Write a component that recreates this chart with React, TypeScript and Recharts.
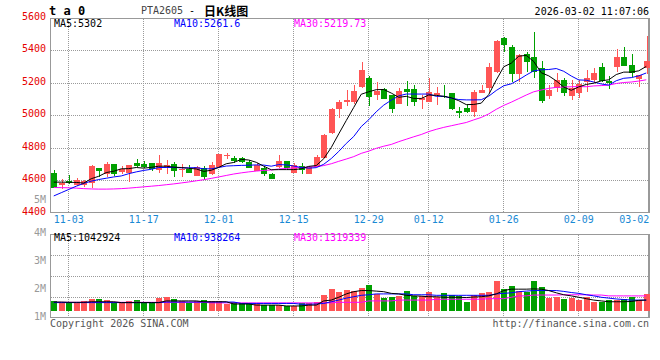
import React from 'react';
import { ComposedChart, Bar, Line, XAxis, YAxis, ReferenceArea } from 'recharts';

// ---------- data ----------
const DATES = [
  '10-30', '10-31',
  '11-03', '11-04', '11-05', '11-06', '11-07', '11-10', '11-11', '11-12', '11-13', '11-14',
  '11-17', '11-18', '11-19', '11-20', '11-21', '11-24', '11-25', '11-26', '11-27', '11-28',
  '12-01', '12-02', '12-03', '12-04', '12-05', '12-08', '12-09', '12-10', '12-11', '12-12',
  '12-15', '12-16', '12-17', '12-18', '12-19', '12-22', '12-23', '12-24', '12-25', '12-26',
  '12-29', '12-30', '12-31',
  '01-05', '01-06', '01-07', '01-08', '01-09', '01-12', '01-13', '01-14', '01-15', '01-16',
  '01-19', '01-20', '01-21', '01-22', '01-23', '01-26', '01-27', '01-28', '01-29', '01-30',
  '02-02', '02-03', '02-04', '02-05', '02-06', '02-09', '02-10', '02-11', '02-12', '02-13',
  '02-24', '02-25', '02-26', '02-27', '03-02',
];

const OPEN = [
  4645, 4573, 4596, 4575, 4575, 4585, 4676, 4639, 4701, 4651,
  4647, 4707, 4701, 4707, 4666, 4676, 4700, 4666, 4672, 4630,
  4674, 4637, 4684, 4750, 4736, 4736, 4715, 4659, 4674, 4639,
  4684, 4719, 4647, 4688, 4639, 4680, 4740, 4890, 5040, 5085,
  5085, 5178, 5233, 5127, 5162, 5127, 5071, 5164, 5164, 5096,
  5085, 5127, 5123, 5141, 5028, 5048, 5024, 5141, 5172, 5267,
  5478, 5419, 5256, 5378, 5361, 5291, 5122, 5168, 5219, 5122,
  5137, 5205, 5219, 5301, 5213, 5301, 5357, 5312, 5225, 5291,
];
const HIGH = [
  4664, 4612, 4635, 4616, 4606, 4696, 4676, 4713, 4701, 4690,
  4694, 4731, 4717, 4707, 4756, 4725, 4712, 4701, 4694, 4692,
  4690, 4715, 4765, 4770, 4750, 4742, 4725, 4705, 4684, 4647,
  4756, 4719, 4705, 4705, 4690, 4756, 4886, 5044, 5096, 5157,
  5188, 5332, 5244, 5209, 5172, 5127, 5168, 5213, 5188, 5127,
  5233, 5174, 5188, 5141, 5054, 5065, 5157, 5188, 5322, 5462,
  5480, 5435, 5378, 5388, 5512, 5336, 5188, 5260, 5233, 5219,
  5219, 5281, 5291, 5326, 5244, 5410, 5419, 5380, 5250, 5487,
];
const LOW = [
  4552, 4546, 4580, 4567, 4560, 4554, 4622, 4622, 4628, 4643,
  4589, 4684, 4674, 4659, 4648, 4643, 4622, 4622, 4647, 4628,
  4606, 4633, 4684, 4730, 4705, 4705, 4674, 4659, 4628, 4610,
  4674, 4664, 4647, 4639, 4639, 4680, 4740, 4888, 4986, 5059,
  5071, 5168, 5059, 5096, 5102, 5014, 5071, 5059, 5059, 5040,
  5085, 5065, 5109, 5034, 4983, 5018, 4990, 5136, 5136, 5260,
  5392, 5209, 5209, 5270, 5230, 5079, 5102, 5147, 5122, 5096,
  5110, 5147, 5199, 5209, 5162, 5270, 5307, 5240, 5178, 5254,
];
const CLOSE = [
  4556, 4585, 4585, 4602, 4594, 4688, 4659, 4701, 4643, 4670,
  4694, 4690, 4684, 4668, 4706, 4694, 4658, 4672, 4647, 4682,
  4622, 4694, 4762, 4756, 4721, 4715, 4674, 4694, 4637, 4610,
  4719, 4674, 4694, 4664, 4684, 4746, 4880, 5040, 5085, 5096,
  5151, 5281, 5116, 5151, 5102, 5040, 5151, 5145, 5085, 5106,
  5143, 5141, 5116, 5040, 5014, 5024, 5147, 5157, 5301, 5459,
  5435, 5256, 5373, 5328, 5270, 5090, 5157, 5219, 5141, 5168,
  5193, 5233, 5260, 5213, 5199, 5357, 5307, 5260, 5250, 5336,
];

const MA5 = [
  4590, 4590, 4589, 4588, 4584, 4611, 4626, 4649, 4657, 4672,
  4673, 4680, 4676, 4681, 4688, 4688, 4682, 4680, 4675, 4671,
  4656, 4663, 4681, 4703, 4711, 4730, 4726, 4712, 4688, 4666,
  4667, 4667, 4667, 4672, 4687, 4692, 4734, 4803, 4887, 4969,
  5050, 5131, 5146, 5159, 5160, 5138, 5112, 5118, 5105, 5105,
  5126, 5124, 5118, 5109, 5091, 5067, 5068, 5076, 5129, 5218,
  5300, 5322, 5365, 5370, 5332, 5263, 5244, 5213, 5175, 5155,
  5176, 5191, 5199, 5213, 5220, 5252, 5267, 5267, 5275, 5302,
];
const MA10 = [
  4505, 4525, 4545, 4565, 4582, 4596, 4606, 4614, 4622, 4628,
  4642, 4653, 4662, 4669, 4680, 4680, 4681, 4678, 4678, 4679,
  4672, 4672, 4680, 4689, 4691, 4693, 4694, 4696, 4695, 4688,
  4698, 4696, 4689, 4680, 4676, 4679, 4700, 4735, 4779, 4828,
  4871, 4932, 4974, 5023, 5064, 5094, 5121, 5132, 5132, 5132,
  5132, 5118, 5118, 5107, 5098, 5096, 5096, 5097, 5119, 5154,
  5183, 5195, 5220, 5249, 5275, 5281, 5283, 5289, 5272, 5243,
  5219, 5217, 5206, 5194, 5187, 5214, 5229, 5233, 5244, 5261.6,
];
const MA30 = [
  4557, 4556, 4555, 4553, 4550, 4548, 4547, 4547, 4548, 4550,
  4553, 4557, 4561, 4565, 4569, 4574, 4579, 4585, 4591, 4598,
  4605, 4613, 4622, 4631, 4640, 4647, 4653, 4658, 4662, 4665,
  4671, 4674, 4678, 4680, 4683, 4685, 4692, 4703, 4718, 4732,
  4747, 4767, 4781, 4798, 4811, 4822, 4839, 4854, 4869, 4883,
  4901, 4915, 4927, 4937, 4947, 4957, 4973, 4988, 5010, 5038,
  5062, 5082, 5104, 5126, 5146, 5157, 5167, 5173, 5175, 5177,
  5178, 5177, 5182, 5184, 5187, 5197, 5203, 5206, 5212, 5219.73,
];

// volume, millions
const VOLUME = [
  1.61, 1.53, 1.57, 1.53, 1.62, 1.68, 1.68, 1.64, 1.58, 1.53,
  1.61, 1.64, 1.53, 1.53, 1.71, 1.75, 1.68, 1.61, 1.53, 1.61,
  1.64, 1.61, 1.61, 1.50, 1.56, 1.53, 1.53, 1.53, 1.46, 1.46,
  1.46, 1.44, 1.43, 1.53, 1.53, 1.58, 1.82, 2.04, 1.94, 2.00,
  1.96, 2.07, 2.18, 1.86, 1.73, 1.75, 1.80, 1.96, 1.80, 1.79,
  1.93, 1.74, 1.89, 1.82, 1.79, 1.58, 1.82, 1.90, 1.94, 2.32,
  2.04, 2.14, 1.98, 1.94, 2.32, 2.11, 1.73, 1.76, 1.68, 1.73,
  1.64, 1.75, 1.58, 1.58, 1.64, 1.64, 1.68, 1.76, 1.64, 1.86,
];
const VOL_MA5 = [
  1.57, 1.57, 1.56, 1.56, 1.56, 1.58, 1.58, 1.58, 1.58, 1.55,
  1.55, 1.55, 1.55, 1.55, 1.55, 1.61, 1.61, 1.61, 1.61, 1.61,
  1.58, 1.58, 1.58, 1.58, 1.50, 1.50, 1.50, 1.46, 1.46, 1.46,
  1.46, 1.43, 1.43, 1.43, 1.46, 1.46, 1.61, 1.64, 1.74, 1.86,
  1.94, 1.98, 1.98, 1.96, 1.94, 1.88, 1.86, 1.81, 1.79, 1.78,
  1.76, 1.76, 1.74, 1.74, 1.74, 1.73, 1.75, 1.76, 1.79, 1.86,
  1.98, 2.03, 2.03, 2.03, 2.04, 2.03, 1.98, 1.90, 1.83, 1.79,
  1.74, 1.69, 1.64, 1.61, 1.58, 1.58, 1.58, 1.59, 1.63, 1.64,
];
const VOL_MA10 = [
  1.55, 1.55, 1.55, 1.55, 1.55, 1.55, 1.55, 1.55, 1.55, 1.55,
  1.55, 1.55, 1.55, 1.55, 1.55, 1.57, 1.57, 1.57, 1.57, 1.57,
  1.57, 1.57, 1.57, 1.57, 1.57, 1.52, 1.52, 1.52, 1.52, 1.52,
  1.52, 1.52, 1.52, 1.49, 1.49, 1.50, 1.52, 1.58, 1.64, 1.71,
  1.76, 1.81, 1.83, 1.86, 1.86, 1.86, 1.86, 1.86, 1.83, 1.83,
  1.83, 1.81, 1.81, 1.81, 1.81, 1.81, 1.81, 1.81, 1.81, 1.86,
  1.88, 1.90, 1.94, 1.96, 1.98, 1.98, 1.98, 1.98, 1.95, 1.91,
  1.88, 1.83, 1.79, 1.74, 1.71, 1.68, 1.66, 1.64, 1.64, 1.64,
];
const VOL_MA30 = [
  1.56, 1.56, 1.56, 1.56, 1.56, 1.56, 1.56, 1.56, 1.56, 1.56,
  1.56, 1.56, 1.56, 1.56, 1.56, 1.56, 1.56, 1.56, 1.56, 1.56,
  1.56, 1.54, 1.54, 1.54, 1.54, 1.54, 1.54, 1.54, 1.54, 1.54,
  1.54, 1.54, 1.54, 1.54, 1.54, 1.54, 1.54, 1.54, 1.56, 1.56,
  1.56, 1.56, 1.61, 1.61, 1.61, 1.61, 1.64, 1.64, 1.64, 1.64,
  1.64, 1.67, 1.67, 1.67, 1.67, 1.67, 1.67, 1.67, 1.69, 1.69,
  1.69, 1.74, 1.79, 1.79, 1.82, 1.82, 1.82, 1.82, 1.83, 1.83,
  1.83, 1.83, 1.82, 1.82, 1.79, 1.79, 1.79, 1.79, 1.79, 1.79,
];

const X_TICKS = ['11-03', '11-17', '12-01', '12-15', '12-29', '01-12', '01-26', '02-09', '03-02'];
const GRID_DATES = X_TICKS.slice(0, -1);
const PRICE_DOMAIN = [4400, 5600];
const PRICE_TICKS = [4400, 4600, 4800, 5000, 5200, 5400, 5600];
const PRICE_GRID = [4600, 4800, 5000, 5200, 5400];
const VOL_DOMAIN = [1, 4];
const VOL_TICKS = [1, 2, 3, 4];
const VOL_GRID = [1.75, 2.5, 3.25];
const VOL_BASE = 1.25;

const TITLE_CODE = 'PTA2605';
const TITLE_NAME = '日K线图';
const STAMP = '2026-03-02 11:07:06';
const PRICE_MA_TEXT = ['MA5:5302', 'MA10:5261.6', 'MA30:5219.73'];
const VOL_MA_TEXT = ['MA5:1042924', 'MA10:938264', 'MA30:1319339'];

// ---------- styles ----------
const MONO = '"DejaVu Sans Mono", "Liberation Mono", monospace';
const CJK = '"Noto Sans CJK SC", "DejaVu Sans", sans-serif';
const UP = '#ff5555';
const DOWN = '#00a000';
const GRID = '#9a9a9a';
const FRAME = '#999999';
const MA_COLORS = ['#000000', '#0000ff', '#ff00ff'];

const rows = DATES.map((date, i) => ({
  date,
  open: OPEN[i],
  high: HIGH[i],
  low: LOW[i],
  close: CLOSE[i],
  ma5: MA5[i],
  ma10: MA10[i],
  ma30: MA30[i],
  vol: VOLUME[i],
  vma5: VOL_MA5[i],
  vma10: VOL_MA10[i],
  vma30: VOL_MA30[i],
}));

// plot frame + dotted grid, drawn inside the plot rectangle the chart gives to a full-range ReferenceArea
const makeFrame = (domain: number[], gridValues: number[]) => (props: any) => {
  const { x, y, width, height } = props;
  if (![x, y, width, height].every((v) => Number.isFinite(v))) return null;
  const l = Math.floor(x) + 0.5;
  const t = Math.floor(y) + 0.5;
  const r = Math.floor(x + width) - 0.5;
  const b = Math.floor(y + height) - 0.5;
  let d = '';
  GRID_DATES.forEach((date) => {
    const i = DATES.indexOf(date);
    if (i < 0) return;
    const xx = Math.floor(x + ((i + 0.5) * width) / DATES.length) + 0.5;
    for (let py = Math.ceil(y) + 1; py < y + height - 1; py += 2) d += `M${xx} ${py}v1`;
  });
  gridValues.forEach((v) => {
    const yy = Math.floor(y + ((domain[1] - v) / (domain[1] - domain[0])) * height) + 0.5;
    for (let px = Math.ceil(x) + 1; px < x + width - 1; px += 2) d += `M${px} ${yy}h1`;
  });
  return (
    <g>
      <path d={d} stroke={GRID} strokeWidth={1} fill="none" />
      <rect x={l} y={t} width={r - l} height={b - t} fill="none" stroke={FRAME} strokeWidth={1} />
      <line x1={r - 1} x2={r - 1} y1={t} y2={b} stroke={FRAME} strokeWidth={1} />
    </g>
  );
};
const priceFrame = makeFrame(PRICE_DOMAIN, PRICE_GRID);
const volFrame = makeFrame(VOL_DOMAIN, VOL_GRID);

function Candle(props: any) {
  const { x, y, width, height, payload } = props;
  if (!payload || x == null) return null;
  const { open, close, high, low } = payload;
  const color = close >= open ? UP : DOWN;
  const h = Math.abs(height);
  const top = height >= 0 ? y : y + height;
  const span = high - low;
  const k = span > 0 ? h / span : 0;
  const py = (v: number) => top + (high - v) * k;
  const bx = Math.round(x);
  const bw = Math.round(width);
  const wTop = Math.round(py(high));
  const wBot = Math.round(py(low));
  const bTop = Math.round(py(Math.max(open, close)));
  const bBot = Math.round(py(Math.min(open, close)));
  return (
    <g>
      <rect x={bx + Math.floor(bw / 2)} y={wTop} width={1} height={Math.max(1, wBot - wTop)} fill={color} />
      <rect x={bx} y={bTop} width={bw} height={Math.max(1, bBot - bTop)} fill={color} />
    </g>
  );
}

function VolBar(props: any) {
  const { x, y, width, height, payload } = props;
  if (!payload || x == null) return null;
  const color = payload.close >= payload.open ? UP : DOWN;
  const h = Math.abs(height);
  const top = height >= 0 ? y : y + height;
  const t = Math.round(top);
  const b = Math.round(top + h);
  return <rect x={Math.round(x)} y={t} width={Math.round(width)} height={Math.max(1, b - t)} fill={color} />;
}

function PriceTick(props: any) {
  const { x, y, payload } = props;
  return (
    <text x={x} y={y - 2} dy="0.355em" textAnchor="end" fill="#e60000" fontSize={10} fontFamily={MONO}>
      {payload.value}
    </text>
  );
}

function VolTick(props: any) {
  const { x, y, payload } = props;
  return (
    <text x={x} y={y - 2} dy="0.355em" textAnchor="end" fill="#999999" fontSize={10} fontFamily={MONO}>
      {payload.value + 'M'}
    </text>
  );
}

function DateTick(props: any) {
  const { x, y, payload } = props;
  const last = payload.value === X_TICKS[X_TICKS.length - 1];
  return (
    <text x={last ? x + 3 : x} y={y} dy="0.71em" textAnchor={last ? 'end' : 'middle'} fill="#1a8ad4" fontSize={10} fontFamily={MONO}>
      {payload.value}
    </text>
  );
}

function Txt(p: { left?: number; right?: number; cy: number; color: string; size?: number; weight?: any; family?: string; children: any }) {
  const size = p.size ?? 10;
  const lh = size + 4;
  const style: any = {
    position: 'absolute',
    top: p.cy - lh / 2,
    lineHeight: lh + 'px',
    fontSize: size,
    color: p.color,
    fontFamily: p.family ?? MONO,
    fontWeight: p.weight ?? 'normal',
    whiteSpace: 'pre',
  };
  if (p.left != null) style.left = p.left;
  if (p.right != null) style.right = p.right;
  return <div style={style}>{p.children}</div>;
}

export default function App() {
  return (
    <div style={{ position: 'absolute', left: 0, top: 0, width: 660, height: 360, background: '#ffffff', overflow: 'hidden' }}>
      <div style={{ position: 'absolute', left: 0, top: 0 }}>
        <ComposedChart width={660} height={228} data={rows} margin={{ top: 18, right: 10, bottom: 0, left: 0 }}>
          <XAxis dataKey="date" type="category" ticks={X_TICKS} interval={0} height={15} tickLine={false} axisLine={false} tickSize={0} tickMargin={3} tick={(p: any) => <DateTick {...p} />} />
          <YAxis type="number" domain={PRICE_DOMAIN} ticks={PRICE_TICKS} interval={0} width={50} tickLine={false} axisLine={false} tickSize={0} tickMargin={4} tick={(p: any) => <PriceTick {...p} />} />
          <Bar dataKey={(d: any) => [d.low, d.high]} barSize={6} shape={(p: any) => <Candle {...p} />} isAnimationActive={false} />
          <Line type="linear" dataKey="ma30" stroke={MA_COLORS[2]} strokeWidth={1} dot={false} activeDot={false} isAnimationActive={false} />
          <Line type="linear" dataKey="ma10" stroke={MA_COLORS[1]} strokeWidth={1} dot={false} activeDot={false} isAnimationActive={false} />
          <Line type="linear" dataKey="ma5" stroke={MA_COLORS[0]} strokeWidth={1} dot={false} activeDot={false} isAnimationActive={false} />
          <ReferenceArea y1={PRICE_DOMAIN[0]} y2={PRICE_DOMAIN[1]} ifOverflow="visible" shape={priceFrame} />
        </ComposedChart>
      </div>

      <div style={{ position: 'absolute', left: 0, top: 226 }}>
        <ComposedChart width={660} height={100} data={rows} margin={{ top: 8, right: 10, bottom: 8, left: 0 }}>
          <XAxis dataKey="date" type="category" ticks={X_TICKS} interval={0} height={0} tick={false} tickLine={false} axisLine={false} />
          <YAxis type="number" domain={VOL_DOMAIN} ticks={VOL_TICKS} interval={0} width={50} tickLine={false} axisLine={false} tickSize={0} tickMargin={4} allowDataOverflow tick={(p: any) => <VolTick {...p} />} />
          <Bar dataKey={(d: any) => [VOL_BASE, d.vol]} barSize={6} shape={(p: any) => <VolBar {...p} />} isAnimationActive={false} />
          <Line type="linear" dataKey="vma30" stroke={MA_COLORS[2]} strokeWidth={1} dot={false} activeDot={false} isAnimationActive={false} />
          <Line type="linear" dataKey="vma10" stroke={MA_COLORS[1]} strokeWidth={1} dot={false} activeDot={false} isAnimationActive={false} />
          <Line type="linear" dataKey="vma5" stroke={MA_COLORS[0]} strokeWidth={1} dot={false} activeDot={false} isAnimationActive={false} />
          <ReferenceArea y1={VOL_DOMAIN[0]} y2={VOL_DOMAIN[1]} ifOverflow="visible" shape={volFrame} />
        </ComposedChart>
      </div>

      {/* header */}
      <Txt left={49} cy={11} color="#000000" size={12} weight="bold">t a 0</Txt>
      <Txt left={141} cy={11} color="#444444">{TITLE_CODE}</Txt>
      <Txt left={189} cy={11} color="#000000">-</Txt>
      <Txt left={204} cy={11} color="#000000" size={12} weight="bold" family={CJK}>{TITLE_NAME}</Txt>
      <Txt right={11} cy={12} color="#000000">{STAMP}</Txt>

      {/* price legend */}
      <Txt left={54} cy={24} color={MA_COLORS[0]}>{PRICE_MA_TEXT[0]}</Txt>
      <Txt left={174} cy={24} color={MA_COLORS[1]}>{PRICE_MA_TEXT[1]}</Txt>
      <Txt left={294} cy={24} color={MA_COLORS[2]}>{PRICE_MA_TEXT[2]}</Txt>
      <Txt right={614} cy={200} color="#999999">5M</Txt>

      {/* volume legend */}
      <Txt left={54} cy={238} color={MA_COLORS[0]}>{VOL_MA_TEXT[0]}</Txt>
      <Txt left={174} cy={238} color={MA_COLORS[1]}>{VOL_MA_TEXT[1]}</Txt>
      <Txt left={294} cy={238} color={MA_COLORS[2]}>{VOL_MA_TEXT[2]}</Txt>

      {/* footer */}
      <Txt left={50} cy={324} color="#555555">Copyright 2026 SINA.COM</Txt>
      <Txt right={11} cy={324} color="#555555">http://finance.sina.com.cn</Txt>
    </div>
  );
}
